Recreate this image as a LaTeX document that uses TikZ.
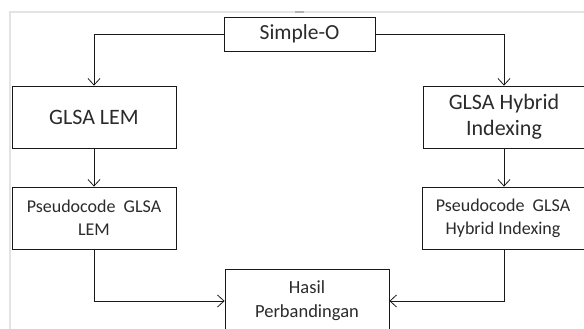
\documentclass[tikz,border=0pt]{standalone}
\usepackage{fontspec}
\setmainfont{Carlito}
\usetikzlibrary{arrows.meta}
\definecolor{txt}{HTML}{2B2B2B}
\definecolor{frm}{HTML}{E3E3E3}
\begin{document}
\begin{tikzpicture}[x=1pt,y=-1pt,
  box/.style={draw=black!90, line width=0.8pt, rectangle, inner sep=0pt, align=center, text=txt},
  conn/.style={draw=black!90, line width=0.8pt, -{Straight Barb[length=6.5pt,width=12pt,line width=0.8pt]}},
  frame/.style={draw=frm, line width=2pt}]
\useasboundingbox (0,0) rectangle (584,329);
\fill[white] (0,0) rectangle (584,329);
\draw[frame] (10,340) -- (10,12) -- (600,12);
\draw[draw=black!30, line width=1.5pt] (295,12) -- (304,12);
\node[box, minimum width=151pt, minimum height=34pt, font=\fontsize{21.5}{25}\selectfont] (simple) at (299.5,34) {Simple-O};
\node[box, minimum width=164pt, minimum height=62pt, font=\fontsize{22}{26}\selectfont] (lem) at (94,117) {GLSA LEM};
\node[box, minimum width=162pt, minimum height=62pt, font=\fontsize{22}{26}\selectfont] (hyb) at (504,117) {GLSA Hybrid\\Indexing};
\node[box, minimum width=164pt, minimum height=62pt, font=\fontsize{18}{23}\selectfont] (plem) at (94,218) {Pseudocode~ GLSA\\LEM};
\node[box, minimum width=162pt, minimum height=62pt, font=\fontsize{18}{23}\selectfont] (phyb) at (503,218) {Pseudocode~ GLSA\\Hybrid Indexing};
\node[box, minimum width=164pt, minimum height=64pt,
  label={[align=center, text=txt, font=\fontsize{18.5}{24}\selectfont]center:Hasil\\Perbandingan}] (hasil) at (307,301) {};
\draw[conn] (simple.west) -| (lem.north);
\draw[conn] (simple.east) -| (hyb.north);
\draw[conn] (lem.south) -- (plem.north);
\draw[conn] (hyb.south) -- (phyb.north -| hyb.south);
\draw[conn] (plem.south) |- (hasil.west);
\draw[conn] (phyb.south -| hyb.south) |- (hasil.east);
\end{tikzpicture}
\end{document}
